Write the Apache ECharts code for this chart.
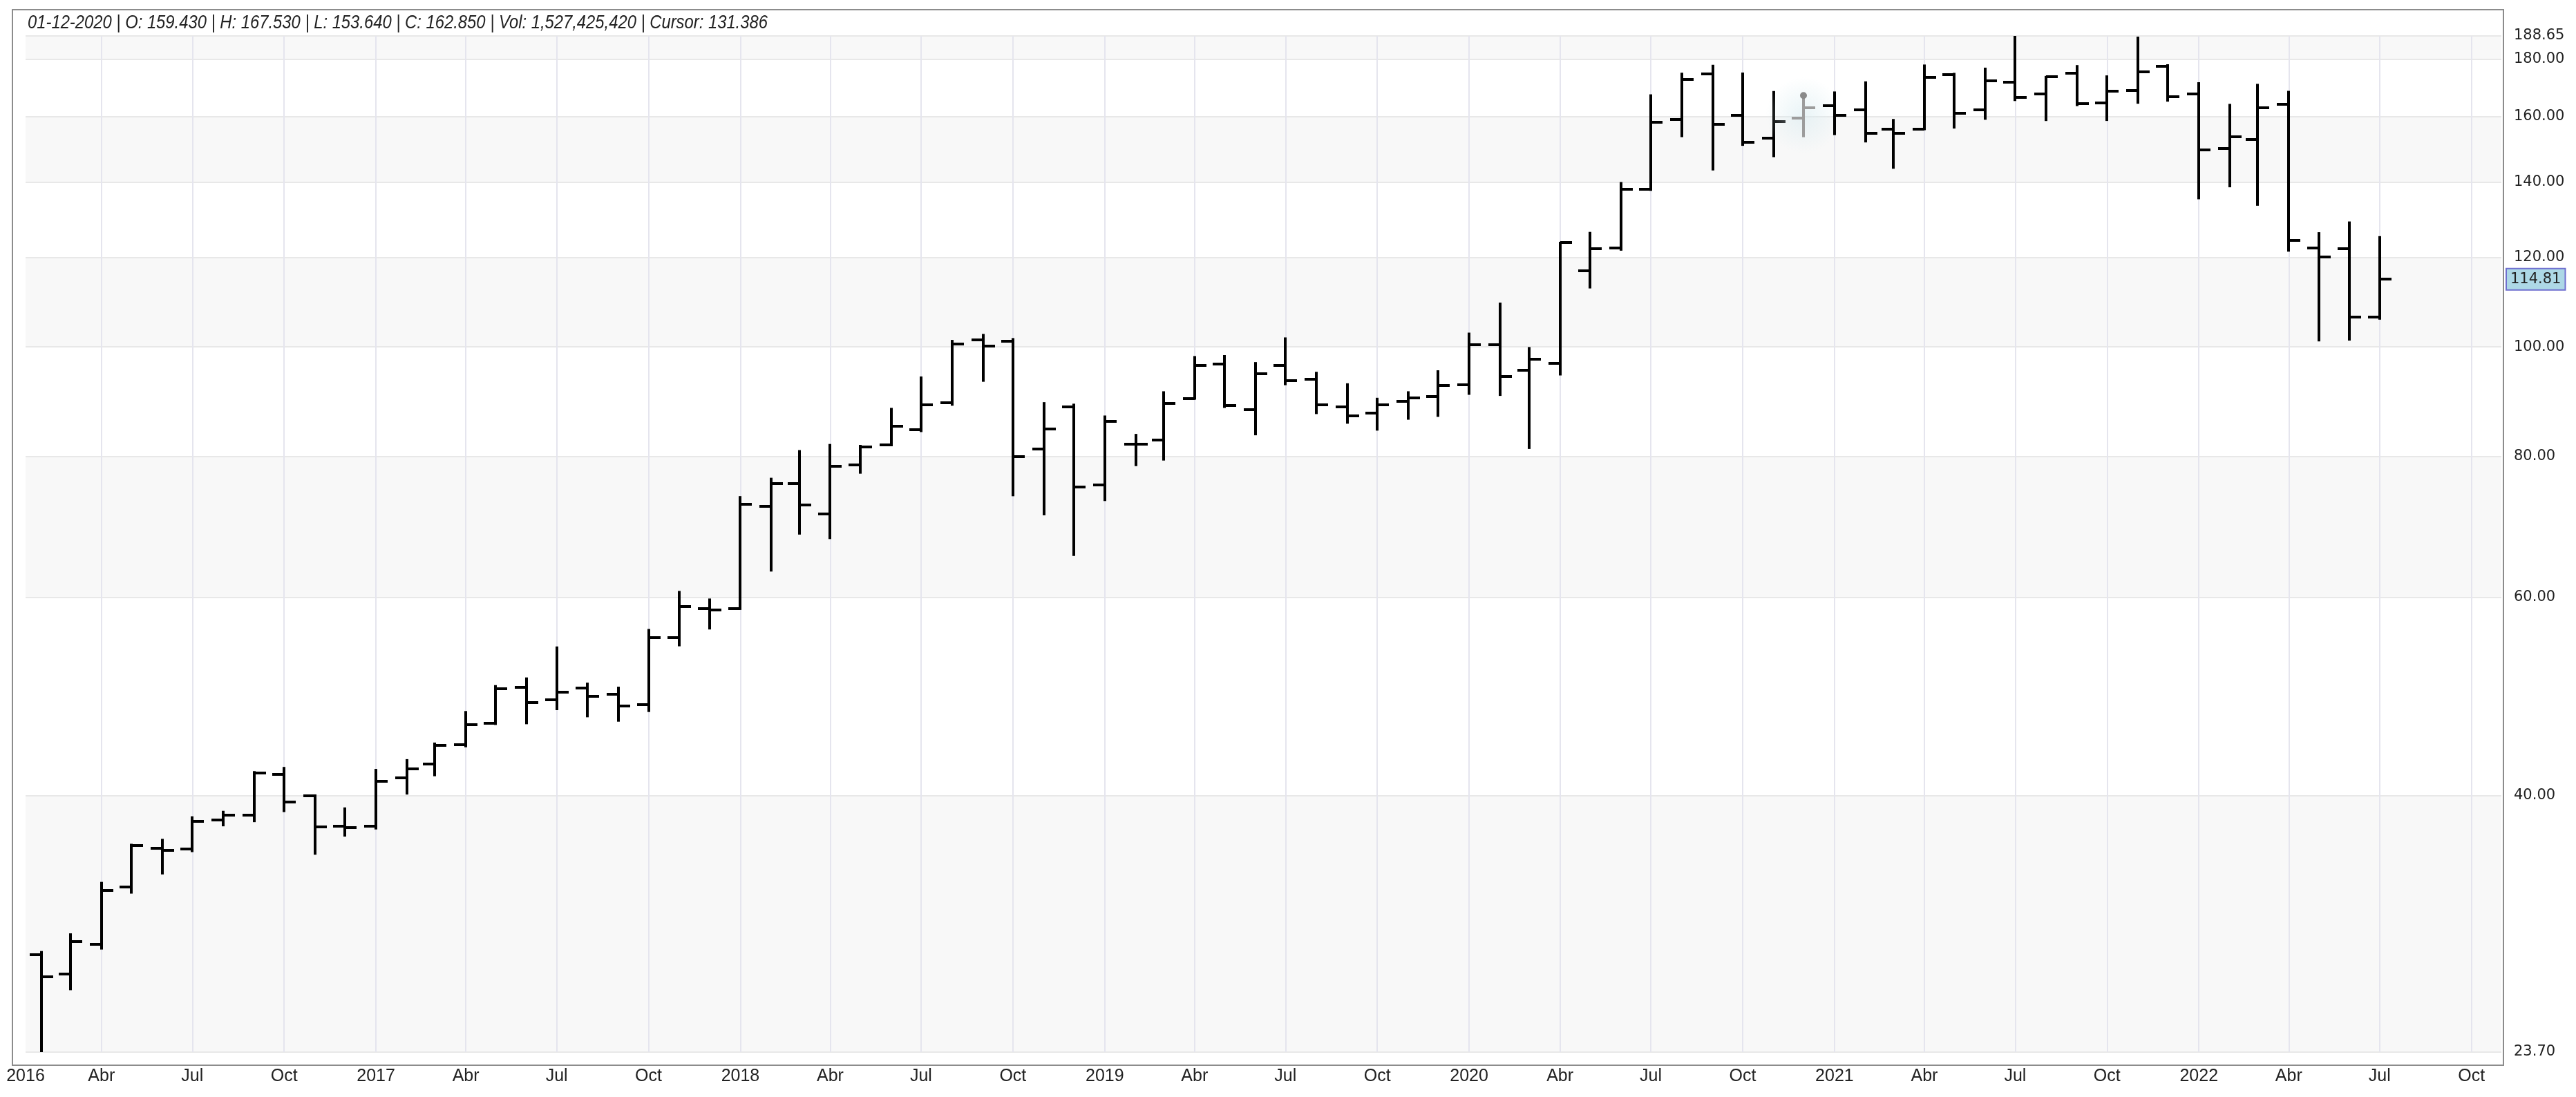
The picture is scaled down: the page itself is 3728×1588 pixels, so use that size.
<!DOCTYPE html>
<html><head><meta charset="utf-8">
<script src="https://cdn.jsdelivr.net/npm/echarts@6/dist/echarts.min.js"></script>
<style>html,body{margin:0;padding:0;background:#fff;}#chart{width:3728px;height:1588px;}</style>
</head><body><div id="chart"></div>
<script>
// Monthly bars (month start)
const months = [
 '2016-02','2016-03','2016-04','2016-05','2016-06','2016-07','2016-08','2016-09','2016-10','2016-11','2016-12',
 '2017-01','2017-02','2017-03','2017-04','2017-05','2017-06','2017-07','2017-08','2017-09','2017-10','2017-11','2017-12',
 '2018-01','2018-02','2018-03','2018-04','2018-05','2018-06','2018-07','2018-08','2018-09','2018-10','2018-11','2018-12',
 '2019-01','2019-02','2019-03','2019-04','2019-05','2019-06','2019-07','2019-08','2019-09','2019-10','2019-11','2019-12',
 '2020-01','2020-02','2020-03','2020-04','2020-05','2020-06','2020-07','2020-08','2020-09','2020-10','2020-11','2020-12',
 '2021-01','2021-02','2021-03','2021-04','2021-05','2021-06','2021-07','2021-08','2021-09','2021-10','2021-11','2021-12',
 '2022-01','2022-02','2022-03','2022-04','2022-05','2022-06','2022-07'
];
const opens = [
 28.91,27.81,29.52,33.20,35.95,35.87,38.05,38.46,41.80,39.98,37.60,
 37.60,41.46,42.65,44.40,46.39,49.93,48.64,49.81,49.21,48.20,55.27,58.60,
 58.60,72.25,75.68,71.10,78.60,81.85,84.50,89.20,101.50,101.10,81.18,88.45,
 75.40,82.00,82.70,90.00,96.60,88.00,96.30,93.60,88.50,87.30,89.50,90.30,
 92.60,100.50,95.32,96.65,116.84,122.40,137.90,159.03,174.48,160.40,153.09,159.43,
 163.50,162.12,155.90,155.89,174.24,162.17,171.73,167.66,174.82,164.45,168.83,177.26,
 167.55,150.00,152.70,164.12,122.40,122.26,106.29
];
const highs = [
 29.09,30.16,33.50,36.21,36.58,38.30,38.73,42.00,42.36,40.05,39.00,
 42.19,43.04,44.52,47.48,50.06,50.85,54.17,50.31,49.90,56.14,60.67,59.74,
 73.63,76.44,80.88,81.90,81.75,88.16,94.00,101.28,102.53,101.66,89.20,88.92,
 86.80,83.60,91.20,98.00,98.20,96.80,101.80,94.90,92.70,90.00,91.20,95.20,
 102.80,109.30,99.82,123.75,126.27,139.80,167.21,174.75,177.61,174.81,168.34,167.53,
 168.19,171.70,159.00,177.70,174.70,176.57,188.65,173.63,177.50,173.80,188.11,177.80,
 171.40,163.99,170.83,168.40,126.20,128.99,125.18
];
const lows = [
 23.70,26.93,29.26,32.80,34.11,35.70,37.63,37.95,38.74,35.51,36.85,
 37.39,40.15,41.68,44.22,46.28,46.35,47.70,47.01,46.59,47.52,54.34,56.24,
 58.53,63.30,68.26,67.64,77.30,81.75,84.15,88.80,93.25,73.82,71.00,65.35,
 73.10,78.50,79.40,89.90,88.40,83.60,92.60,87.30,85.60,84.40,86.30,86.80,
 90.80,90.60,81.30,94.46,112.82,121.86,137.70,153.65,143.55,150.95,147.50,153.64,
 154.30,152.00,144.05,155.85,156.37,159.20,165.40,158.79,163.70,158.81,164.50,165.20,
 135.35,138.70,133.57,121.62,101.26,101.43,105.85
];
const closes = [
 27.63,29.68,32.98,36.14,35.78,37.94,38.46,41.87,39.49,37.53,37.49,
 41.17,42.25,44.33,46.25,49.73,48.40,49.39,49.03,48.07,55.26,58.84,58.47,
 72.54,75.62,72.37,78.31,81.48,84.99,88.87,100.64,100.15,79.90,84.51,75.10,
 85.94,81.99,89.04,96.33,88.75,94.68,93.34,88.81,86.80,88.83,90.04,92.39,
 100.44,94.19,97.49,123.70,122.12,137.94,158.23,172.55,157.44,151.81,158.40,162.85,
 160.31,154.65,154.70,173.37,161.15,172.01,166.38,173.54,164.25,168.62,175.35,166.72,
 149.57,153.56,163.00,124.28,120.21,106.21,114.81
];
// y tick labels (log axis)
const yTickValues = [23.70, 40, 60, 80, 100, 120, 140, 160, 180, 188.65];
// x ticks: quarter starts
const xTickDates = [
 '2016-04-01','2016-07-01','2016-10-01','2017-01-01','2017-04-01','2017-07-01','2017-10-01',
 '2018-01-01','2018-04-01','2018-07-01','2018-10-01','2019-01-01','2019-04-01','2019-07-01','2019-10-01',
 '2020-01-01','2020-04-01','2020-07-01','2020-10-01','2021-01-01','2021-04-01','2021-07-01','2021-10-01',
 '2022-01-01','2022-04-01','2022-07-01','2022-10-01'
];
const firstLabelDate = '2016-01-16';
const monthNames = {3:'Abr', 6:'Jul', 9:'Oct'};
const xMin = '2016-01-16', xMax = '2022-10-31';
const highlightMonth = '2020-12';
const headerDate = '01-12-2020';
const headerVolume = '1,527,425,420';
const headerCursor = '131.386';

function ts(s){ const p = s.split('-').map(Number); return Date.UTC(p[0], p[1]-1, p[2] || 1); }

const hiIdx = months.indexOf(highlightMonth);
const data = months.map((m,i)=>[ts(m), opens[i], highs[i], lows[i], closes[i]]);
const lastClose = closes[closes.length-1];
const headerText = headerDate + ' | O: ' + opens[hiIdx].toFixed(3) + ' | H: ' + highs[hiIdx].toFixed(3) +
  ' | L: ' + lows[hiIdx].toFixed(3) + ' | C: ' + closes[hiIdx].toFixed(3) + ' | Vol: ' + headerVolume + ' | Cursor: ' + headerCursor;

const xTickTs = xTickDates.map(ts);
const xLabelTs = [ts(firstLabelDate)].concat(xTickTs);
const SANS = "'Liberation Sans',Arial,sans-serif";
const WIDE = "'DejaVu Sans',Verdana,sans-serif";

const chart = echarts.init(document.getElementById('chart'), null, {renderer:'canvas'});
const TICK = 17;
chart.setOption({
  animation: false,
  backgroundColor: '#ffffff',
  graphic: [{
    type:'rect', silent:true, z: 100,
    shape:{x:18, y:14, width:3605, height:1528},
    style:{fill:null, stroke:'#8c8c8c', lineWidth:2}
  }, {
    type:'text', silent:true, z: 100, x: 40, y: 33, scaleX: 0.85, scaleY: 1, originX: 0, originY: 0,
    style:{text: headerText, fill:'#222', fontFamily: SANS, fontSize: 28, fontStyle:'italic', verticalAlign:'middle', align:'left'}
  }],
  grid: {left:37, right:108, top:52, bottom:65, containLabel:false},
  xAxis: {
    type:'value', min: ts(xMin), max: ts(xMax),
    axisLine:{show:false},
    axisTick:{show:false, customValues: xTickTs},
    axisLabel:{
      customValues: xLabelTs,
      formatter: function(v){ const d = new Date(v); const m = d.getUTCMonth(); return m === 0 ? String(d.getUTCFullYear()) : (monthNames[m] || ''); },
      fontFamily:SANS, fontSize:25, color:'#222', margin:23
    },
    splitLine:{show:true, lineStyle:{color:'#e5e5ee', width:2}}
  },
  yAxis: {
    type:'log', logBase:10, min:23.70, max:188.65, position:'right',
    axisLine:{show:false},
    axisTick:{show:false, customValues: yTickValues},
    axisLabel:{customValues: yTickValues, formatter: v => Number(v).toFixed(2), fontFamily:WIDE, fontSize:21, color:'#222', margin:18},
    splitLine:{show:true, lineStyle:{color:'#e8e8e8', width:2}},
    splitArea:{show:true, areaStyle:{color:['#f8f8f8','#ffffff']}}
  },
  series: [{
    type:'custom',
    data: data,
    encode: {x:0, y:[1,2,3,4]},
    clip: true,
    renderItem: function(params, api){
      const t = api.value(0);
      const pH = api.coord([t, api.value(2)]);
      const pL = api.coord([t, api.value(3)]);
      const pO = api.coord([t, api.value(1)]);
      const pC = api.coord([t, api.value(4)]);
      const x = Math.round(pH[0]);
      const isHi = params.dataIndex === hiIdx;
      const color = isHi ? '#9c9c9c' : '#000000';
      const style = {stroke: color, lineWidth: 4, lineCap:'butt', fill:null};
      const children = [];
      if (isHi) {
        children.push({type:'circle', shape:{cx:x, cy:(pH[1]+pL[1])/2, r:55},
          style:{fill:{type:'radial', x:0.5, y:0.5, r:0.5, colorStops:[{offset:0,color:'rgba(215,235,240,0.55)'},{offset:1,color:'rgba(215,235,240,0)'}]}}});
      }
      children.push({type:'line', shape:{x1:x, y1:pH[1]-1, x2:x, y2:pL[1]+1}, style: style});
      children.push({type:'line', shape:{x1:x-TICK, y1:Math.round(pO[1]), x2:x, y2:Math.round(pO[1])}, style: style});
      children.push({type:'line', shape:{x1:x, y1:Math.round(pC[1]), x2:x+TICK, y2:Math.round(pC[1])}, style: style});
      if (isHi) {
        children.push({type:'circle', shape:{cx:x, cy:pH[1]+2, r:5}, style:{fill:'#8a8a8a'}});
      }
      return {type:'group', children: children};
    }
  }, {
    type:'line', data:[[data[data.length-1][0], lastClose]], showSymbol:false, symbol:'none',
    lineStyle:{color:'rgba(0,0,0,0)'}, silent:true,
    markLine:{
      silent:true, symbol:'none', animation:false,
      lineStyle:{color:'rgba(0,0,0,0)', width:1, type:'solid'},
      data:[{yAxis:lastClose}],
      label:{show:true, position:'end', distance:8, formatter: () => lastClose.toFixed(2),
        backgroundColor:'#add8e6', borderColor:'#6f6fcf', borderWidth:2, padding:[5,5,3,5],
        color:'#222', fontFamily:WIDE, fontSize:21, opacity:1}
    }
  }]
});
</script></body></html>
